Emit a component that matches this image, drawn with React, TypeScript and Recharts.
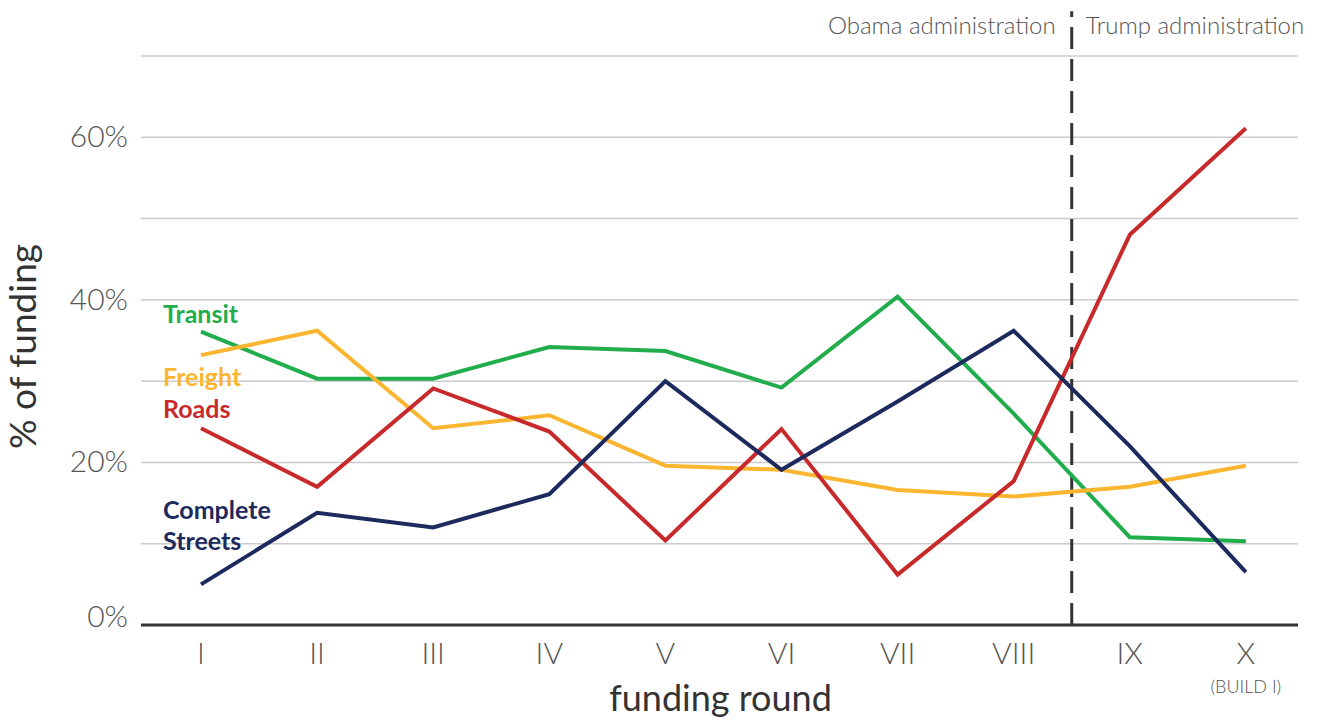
import React from 'react';
import { LineChart, Line, XAxis, YAxis, CartesianGrid, ReferenceLine, Label } from 'recharts';

const rounds = ['I', 'II', 'III', 'IV', 'V', 'VI', 'VII', 'VIII', 'IX', 'X'];
const roundNotes = ['', '', '', '', '', '', '', '', '', '(BUILD I)'];
const transit = [36.1, 30.3, 30.3, 34.2, 33.7, 29.2, 40.4, 26.0, 10.8, 10.3];
const freight = [33.2, 36.2, 24.2, 25.8, 19.6, 19.1, 16.6, 15.8, 17.0, 19.6];
const roads = [24.2, 17.0, 29.1, 23.8, 10.4, 24.1, 6.2, 17.7, 48.0, 61.1];
const completeStreets = [5.0, 13.8, 12.0, 16.1, 30.0, 19.1, 27.5, 36.2, 22.0, 6.5];
const yTicks = [0, 10, 20, 30, 40, 50, 60, 70];
const yLabelled = [0, 20, 40, 60];

const FONT = 'Lato, "Open Sans", sans-serif';

const data = rounds.map((r, i) => ({
  idx: i + 1,
  transit: transit[i],
  freight: freight[i],
  roads: roads[i],
  completeStreets: completeStreets[i],
}));

const series = [
  { key: 'transit', lines: ['Transit'], color: '#22ad4d', dy: [-9] },
  { key: 'freight', lines: ['Freight'], color: '#fbb631', dy: [31] },
  { key: 'roads', lines: ['Roads'], color: '#c82a2b', dy: [-10] },
  { key: 'completeStreets', lines: ['Complete', 'Streets'], color: '#1d2a5d', dy: [-65, -34] },
];

const XTick = (props: any) => {
  const { x, y, payload } = props;
  const i = payload.value - 1;
  return (
    <g>
      <text x={x} y={y} dy={37} textAnchor="middle" fill="#555" fontFamily={FONT} fontWeight={300} fontSize={30}>
        {rounds[i]}
      </text>
      {roundNotes[i] ? (
        <text x={x} y={y} dy={66} textAnchor="middle" fill="#555" fontFamily={FONT} fontWeight={300} fontSize={18}>
          {roundNotes[i]}
        </text>
      ) : null}
    </g>
  );
};

const YTick = (props: any) => {
  const { x, y, payload } = props;
  if (!yLabelled.includes(payload.value)) return <g />;
  // the 0% label sits a little above the base line
  const dy = payload.value === 0 ? 2 : 10;
  return (
    <text x={x} y={y} dy={dy} textAnchor="end" fill="#555" fontFamily={FONT} fontWeight={300} fontSize={30}>
      {payload.value}%
    </text>
  );
};

export default function App() {
  return (
    <div style={{ position: 'absolute', left: 0, top: 0, background: '#fff' }}>
      <LineChart width={1320} height={721} data={data} margin={{ top: 56, right: 22, left: 0, bottom: 0 }}>
        <CartesianGrid vertical={false} stroke="#cccccc" strokeWidth={1.5} />
        <XAxis
          dataKey="idx"
          type="number"
          domain={[0.483, 10.449]}
          ticks={[1, 2, 3, 4, 5, 6, 7, 8, 9, 10]}
          allowDataOverflow
          height={96}
          axisLine={{ stroke: '#333', strokeWidth: 3 }}
          tickLine={false}
          tickSize={0}
          tick={<XTick />}
        >
          <Label
            content={(p: any) => {
              const vb = p.viewBox;
              return (
                <text x={vb.x + vb.width / 2 + 1} y={vb.y + 86} textAnchor="middle" fill="#333" fontFamily={FONT} fontSize={36}>
                  funding round
                </text>
              );
            }}
          />
        </XAxis>
        <YAxis
          type="number"
          domain={[0, 70]}
          ticks={yTicks}
          width={141}
          axisLine={false}
          tickLine={false}
          tickSize={0}
          tickMargin={13}
          tick={<YTick />}
        >
          <Label
            content={(p: any) => {
              const vb = p.viewBox;
              const cy = vb.y + vb.height / 2 + 6;
              return (
                <text x={36} y={cy} transform={`rotate(-90 36 ${cy})`} textAnchor="middle" fill="#333" fontFamily={FONT} fontSize={37}>
                  % of funding
                </text>
              );
            }}
          />
        </YAxis>
        <ReferenceLine
          segment={[{ x: 8.5, y: 0 }, { x: 8.5, y: 75.5 }]}
          ifOverflow="visible"
          stroke="#333"
          strokeWidth={3}
          strokeDasharray="22 10"
          label={(p: any) => {
            const vb = p.viewBox || {};
            const lx = vb.x ?? 1072;
            return (
              <g>
                <text x={lx - 16} y={34} textAnchor="end" fill="#555" fontFamily={FONT} fontWeight={300} fontSize={24}>
                  Obama administration
                </text>
                <text x={lx + 14} y={34} textAnchor="start" fill="#555" fontFamily={FONT} fontWeight={300} fontSize={24}>
                  Trump administration
                </text>
              </g>
            );
          }}
        />
        {series.map((s) => (
          <Line
            key={s.key}
            dataKey={s.key}
            type="linear"
            stroke={s.color}
            strokeWidth={4}
            dot={false}
            activeDot={false}
            isAnimationActive={false}
            label={(p: any) =>
              p.index === 0 ? (
                <g key={`${s.key}-label`}>
                  {s.lines.map((t, j) => (
                    <text key={t} x={p.x - 38} y={p.y + s.dy[j]} fill={s.color} fontFamily={FONT} fontWeight={700} fontSize={25}>
                      {t}
                    </text>
                  ))}
                </g>
              ) : (
                <g key={`${s.key}-${p.index}`} />
              )
            }
          />
        ))}
      </LineChart>
    </div>
  );
}
